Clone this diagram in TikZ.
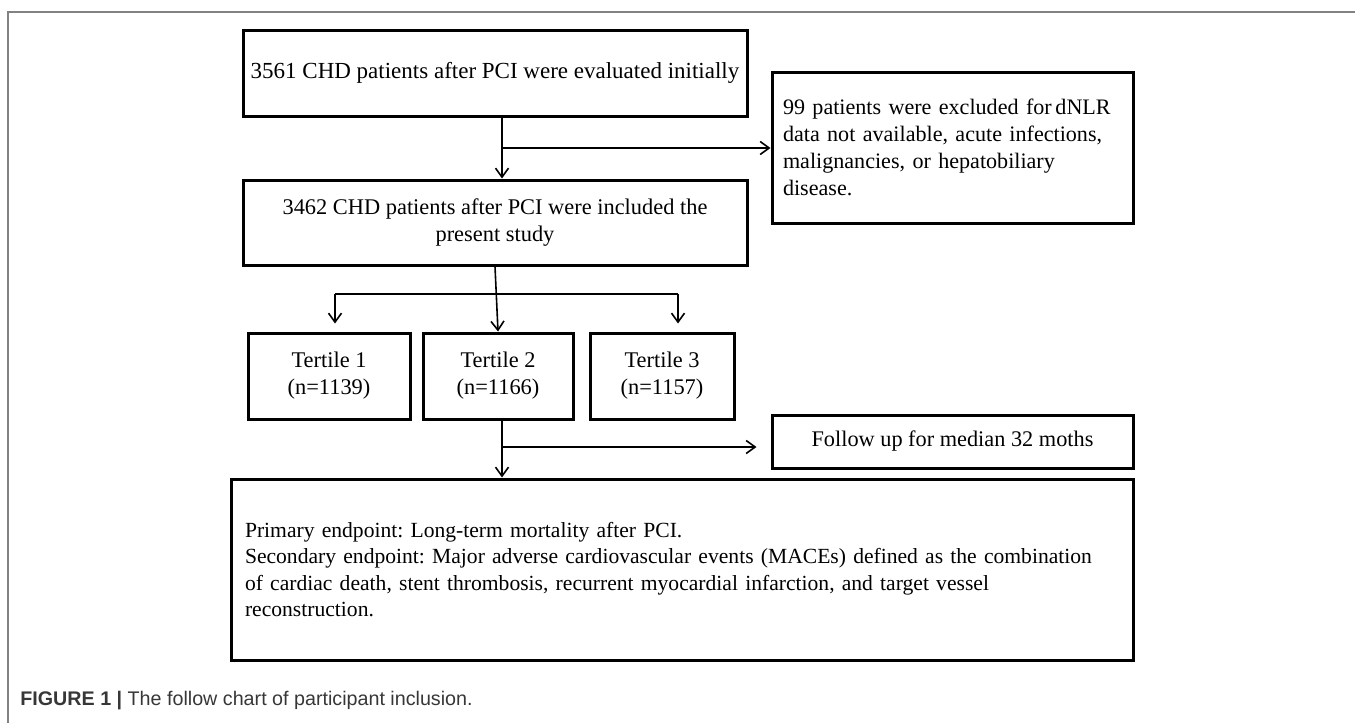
\documentclass[tikz,border=0pt]{standalone}
\usepackage{fontspec}
\setmainfont{Liberation Serif}
\newfontfamily\capfont{Liberation Sans}
\usetikzlibrary{arrows.meta}
\definecolor{framegray}{RGB}{130,130,130}
\definecolor{capgray}{RGB}{55,55,55}
\frenchspacing
\tikzset{
  box/.style={draw=black, line width=1.5pt, inner sep=0pt, font=\fontsize{11.2}{13.5}\selectfont},
  arr/.style={line width=0.8pt, -{Straight Barb[length=4.5pt,width=6.5pt,line width=0.8pt]}},
  plainline/.style={line width=0.8pt},
}
\begin{document}
\begin{tikzpicture}[x=0.5pt,y=-0.5pt]
\useasboundingbox (0,0) rectangle (1355,723);
\draw[framegray, line width=0.9pt] (8,723) -- (8,12) -- (1355,12);

\node[box, minimum width=252pt, minimum height=43pt, font=\fontsize{11.5}{13.5}\selectfont] (top) at (495,73)
  {3561 CHD patients after PCI were evaluated initially};
\node[box, minimum width=180.5pt, minimum height=75.5pt, text width=169.5pt, align=left,
      font=\fontsize{11.05}{13.5}\selectfont] (excl) at (952.5,147.5)
  {99 patients were excluded for\,dNLR\\ data not available, acute infections,\\ malignancies, or hepatobiliary\\ disease.};
\node[box, minimum width=252pt, minimum height=42.5pt, align=center] (second) at (495,222.5)
  {3462 CHD patients after PCI were included the\\ present study};
\node[box, minimum width=81pt, minimum height=43pt, align=center] (t1) at (329,376)
  {Tertile 1\\(n=1139)};
\node[box, minimum width=75pt, minimum height=43pt, align=center] (t2) at (498,376)
  {Tertile 2\\(n=1166)};
\node[box, minimum width=72pt, minimum height=43pt, align=center] (t3) at (662,376)
  {Tertile 3\\(n=1157)};
\node[box, minimum width=180.5pt, minimum height=26.5pt, font=\fontsize{11.15}{13.5}\selectfont] (follow) at (952.5,441.5)
  {Follow up for median 32 moths};
\node[box, minimum width=451pt, minimum height=90.5pt, text width=437pt, align=left,
      font=\fontsize{10.8}{13.3}\selectfont] (bottom) at (682,569.5)
  {\mbox{Primary endpoint: Long-term mortality after PCI.}\\
   \mbox{Secondary endpoint: Major adverse cardiovascular events (MACEs) defined as the combination}\\
   \mbox{of cardiac death, stent thrombosis, recurrent myocardial infarction, and target vessel}\\
   \mbox{reconstruction.}};

\node[anchor=west, inner sep=0pt, text=capgray, font=\capfont\fontsize{9.85}{12}\selectfont] (cap) at (20,701)
  {\textbf{FIGURE 1 |} The follow chart of participant inclusion.};

% connectors
\coordinate (c1) at (502,148);
\coordinate (c2) at (502,447);
\coordinate (b1) at (335,294);
\coordinate (b3) at (678,294);

\draw[arr] (top.south -| c1) -- (second.north -| c1);
\draw[arr] (c1) -- (excl.west |- c1);
\draw[arr] (second.south) -- (t2.north);
\draw[plainline] (b1) -- (b3);
\draw[arr, shorten >=4pt] (b1) -- (b1 |- t1.north);
\draw[arr, shorten >=4pt] (b3) -- (b3 |- t3.north);
\draw[arr] (t2.south -| c2) -- (bottom.north -| c2);
\draw[arr, shorten >=7pt] (c2) -- (follow.west |- c2);
\end{tikzpicture}
\end{document}
